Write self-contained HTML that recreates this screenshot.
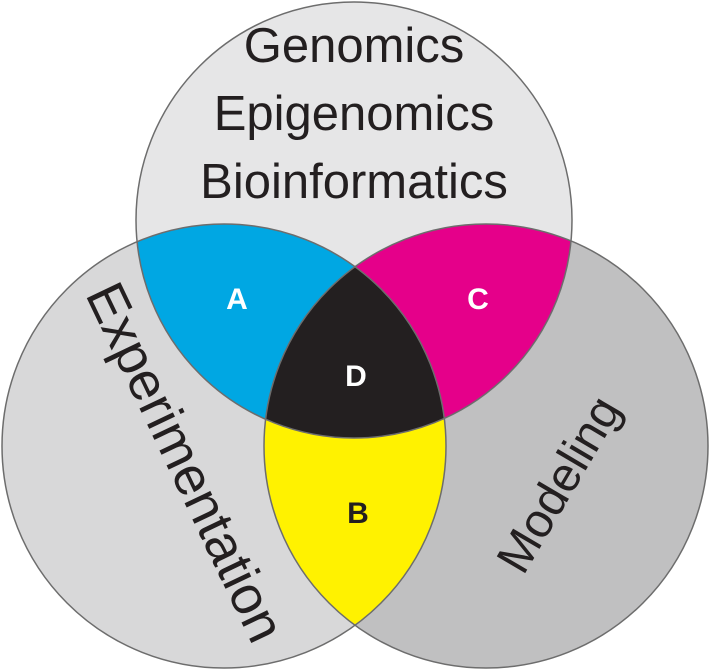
<!DOCTYPE html>
<html><head><meta charset="utf-8"><style>
html,body{margin:0;padding:0;background:#fff;}
svg{display:block;}
text{font-family:"Liberation Sans",Arial,sans-serif;}
</style></head><body>
<svg width="709" height="671" viewBox="0 0 709 671">
<defs>
<clipPath id="cTop"><circle cx="354" cy="220" r="218"/></clipPath>
<clipPath id="cLeft"><circle cx="224" cy="446" r="222"/></clipPath>
<clipPath id="cRight"><circle cx="486" cy="446" r="222"/></clipPath>
</defs>
<circle cx="486" cy="446" r="222" fill="#c0c0c1"/>
<circle cx="224" cy="446" r="222" fill="#d8d8d9"/>
<circle cx="354" cy="220" r="218" fill="#e6e6e7"/>
<g clip-path="url(#cTop)"><circle cx="224" cy="446" r="222" fill="#00a7e3"/></g>
<g clip-path="url(#cTop)"><circle cx="486" cy="446" r="222" fill="#e5008a"/></g>
<g clip-path="url(#cLeft)"><circle cx="486" cy="446" r="222" fill="#fff200"/></g>
<g clip-path="url(#cTop)"><g clip-path="url(#cLeft)"><circle cx="486" cy="446" r="222" fill="#231f20"/></g></g>
<g fill="none" stroke="#6d6d6d" stroke-width="1.5">
<circle cx="354" cy="220" r="218"/><circle cx="224" cy="446" r="222"/><circle cx="486" cy="446" r="222"/>
</g>
<g font-size="49" fill="#231f20" text-anchor="middle">
<text x="354" y="62">Genomics</text>
<text x="354" y="130">Epigenomics</text>
<text x="354" y="198">Bioinformatics</text>
<text font-size="54" transform="translate(186,462) rotate(64.5)" x="0" y="19">Experimentation</text>
<text font-size="48" transform="translate(558,484) rotate(-59.5)" x="0" y="17">Modeling</text>
</g>
<g font-size="30" font-weight="bold" text-anchor="middle">
<text x="237" y="309" fill="#fff">A</text>
<text x="478" y="309" fill="#fff">C</text>
<text x="356" y="386" fill="#fff">D</text>
<text x="358" y="523" fill="#231f20">B</text>
</g>
</svg>
</body></html>
